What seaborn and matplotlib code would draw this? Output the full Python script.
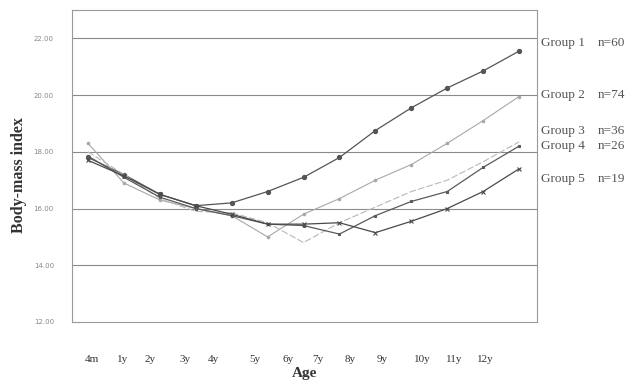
import matplotlib
matplotlib.use("Agg")
import matplotlib.pyplot as plt
import seaborn as sns
import pandas as pd

ages = ["4m", "1y", "2y", "3y", "4y", "5y", "6y", "7y", "8y", "9y", "10y", "11y", "12y"]
group1 = [17.8, 17.2, 16.5, 16.1, 16.2, 16.6, 17.1, 17.8, 18.75, 19.55, 20.25, 20.85, 21.55]
group2 = [18.3, 16.9, 16.3, 16.0, 15.75, 15.0, 15.8, 16.35, 17.0, 17.55, 18.3, 19.1, 19.95]
group3 = [18.0, 17.2, 16.35, 15.9, 15.85, 15.5, 14.8, 15.5, 16.05, 16.6, 17.0, 17.65, 18.35]
group4 = [17.85, 17.1, 16.4, 16.0, 15.75, 15.45, 15.4, 15.1, 15.75, 16.25, 16.6, 17.45, 18.2]
group5 = [17.7, 17.15, 16.5, 16.1, 15.8, 15.45, 15.45, 15.5, 15.15, 15.55, 16.0, 16.6, 17.4]
group_names = ["Group 1", "Group 2", "Group 3", "Group 4", "Group 5"]
group_n = ["n=60", "n=74", "n=36", "n=26", "n=19"]
yticks = [12, 14, 16, 18, 20, 22]

# layout only
tick_pos = [0.11, 0.95, 1.73, 2.7, 3.5, 4.65, 5.57, 6.4, 7.3, 8.2, 9.3, 10.2, 11.05]
label_y = [21.85, 20.0, 18.75, 18.2, 17.05]

sns.set_style("white")
fig = plt.figure(figsize=(6.38, 3.88), dpi=100)
ax = fig.add_axes([72/638, 66/388, 465/638, 312/388])

series = [group1, group2, group3, group4, group5]
styles = [
    dict(color="#555555", marker="o", markersize=3, lw=0.9, ls="-"),
    dict(color="#a8a8a8", marker="o", markersize=1.8, lw=0.8, ls="-"),
    dict(color="#b8b8b8", marker="", markersize=0, lw=0.8, ls=(0, (6, 2))),
    dict(color="#5a5a5a", marker="s", markersize=1.5, lw=0.9, ls="-"),
    dict(color="#4a4a4a", marker="x", markersize=3, lw=0.9, ls="-"),
]
for name, vals, st in zip(group_names, series, styles):
    df = pd.DataFrame({"x": range(len(ages)), "bmi": vals})
    sns.lineplot(data=df, x="x", y="bmi", ax=ax, color=st["color"], lw=st["lw"],
                 linestyle=st["ls"], marker=st["marker"] or None,
                 markersize=st["markersize"], markeredgecolor=st["color"],
                 markeredgewidth=0.8, label=None)

ax.set_xlim(-0.446, 12.5)
ax.set_ylim(12, 23.0)
ax.set_yticks(yticks)
ax.set_yticklabels([f"{v:.2f}" for v in yticks], fontsize=5, color="#888888")
ax.set_xticks(tick_pos)
ax.set_xticklabels(ages, fontsize=8, family="Liberation Serif", color="#333333")
ax.tick_params(axis="x", length=0, pad=24)
ax.tick_params(axis="y", length=0, pad=13)
for v in yticks[1:]:
    ax.axhline(v, color="#8a8a8a" if v != 16 else "#9a8a7a", lw=0.8, zorder=0)
for s in ax.spines.values():
    s.set_color("#999999")
    s.set_linewidth(0.8)

ax.set_xlabel("Age", fontsize=11, family="Liberation Serif", fontweight="bold",
              color="#333333", labelpad=2)
ax.set_ylabel("Body-mass index", fontsize=11.5, family="Liberation Serif",
              fontweight="bold", color="#333333")
ax.yaxis.set_label_coords(-0.097, 0.47)

for name, n, yv in zip(group_names, group_n, label_y):
    ax.text(12.6, yv, name, fontsize=9.5, family="Liberation Serif", color="#555555",
            va="center", ha="left", clip_on=False)
    ax.text(14.2, yv, n, fontsize=9.5, family="Liberation Serif", color="#555555",
            va="center", ha="left", clip_on=False)

fig.savefig("out.png", dpi=100, facecolor="white")
